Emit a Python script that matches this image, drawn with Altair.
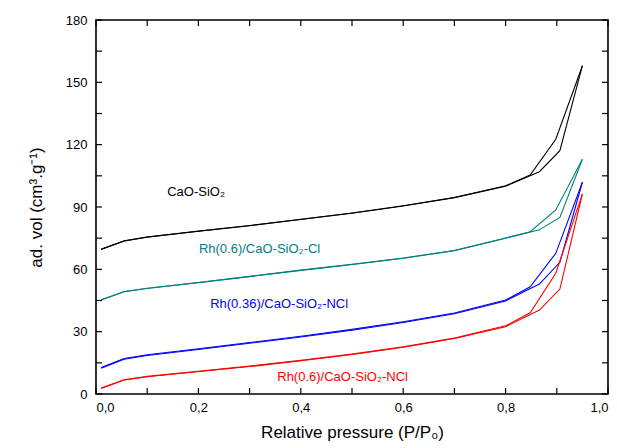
import altair as alt
import pandas as pd

series_names = ["CaO-SiO₂", "Rh(0.6)/CaO-SiO₂-Cl", "Rh(0.36)/CaO-SiO₂-NCl", "Rh(0.6)/CaO-SiO₂-NCl"]
series_colors = ["#000000", "#008080", "#0000ff", "#ff0000"]

# relative pressures of adsorption and desorption branches
p_ads = [0.01, 0.055, 0.1, 0.2, 0.3, 0.4, 0.5, 0.6, 0.7, 0.8, 0.866, 0.906, 0.95]
p_des = [0.95, 0.898, 0.848, 0.8, 0.7, 0.6, 0.5, 0.4, 0.3, 0.2, 0.1, 0.055, 0.01]

ads_cao = [69.6, 73.6, 75.5, 78.3, 81.0, 84.0, 87.0, 90.5, 94.5, 100.0, 107.0, 117.1, 158.0]
des_cao = [158.0, 122.6, 105.4, 100.2, 94.6, 90.6, 87.1, 84.1, 81.1, 78.4, 75.6, 73.7, 69.7]

ads_cl = [45.2, 49.2, 50.8, 53.6, 56.5, 59.5, 62.3, 65.3, 69.0, 75.0, 79.0, 85.0, 113.0]
des_cl = [113.0, 88.6, 78.1, 75.1, 69.1, 65.4, 62.4, 59.6, 56.6, 53.7, 50.9, 49.3, 45.3]

ads_036 = [12.4, 16.7, 18.5, 21.4, 24.4, 27.4, 30.7, 34.4, 38.6, 44.8, 52.9, 63.4, 101.9]
des_036 = [101.9, 67.7, 51.6, 45.2, 39.0, 34.8, 31.1, 27.8, 24.8, 21.8, 18.9, 17.1, 12.7]

ads_06 = [2.7, 6.7, 8.3, 10.8, 13.2, 16.0, 19.0, 22.5, 26.7, 32.4, 40.4, 50.5, 96.3]
des_06 = [96.3, 58.1, 39.1, 32.8, 26.9, 22.7, 19.2, 16.2, 13.4, 10.9, 8.5, 6.9, 2.9]

ads_all = [ads_cao, ads_cl, ads_036, ads_06]
des_all = [des_cao, des_cl, des_036, des_06]

# label annotations
label_x = [0.139, 0.201, 0.223, 0.354]
label_y = [97.2, 69.8, 43.3, 8.2]

x_ticks = [0.0, 0.1, 0.2, 0.3, 0.4, 0.5, 0.6, 0.7, 0.8, 0.9, 1.0]
x_labels = [0.0, 0.2, 0.4, 0.6, 0.8, 1.0]
y_ticks = [0, 15, 30, 45, 60, 75, 90, 105, 120, 135, 150, 165, 180]
y_labels = [0, 30, 60, 90, 120, 150, 180]

rows = []
for name, a, d in zip(series_names, ads_all, des_all):
    for i, (p, v) in enumerate(zip(p_ads, a)):
        rows.append({"series": name, "branch": "ads", "order": i, "p": p, "v": v})
    for i, (p, v) in enumerate(zip(p_des, d)):
        rows.append({"series": name, "branch": "des", "order": i, "p": p, "v": v})
df = pd.DataFrame(rows)

lab_df = pd.DataFrame({"series": series_names, "p": label_x, "v": label_y})

W, H = 512, 374
FONT = "Liberation Sans"

xs = alt.Scale(domain=[0, 1], nice=False, zero=False)
ys = alt.Scale(domain=[0, 180], nice=False)
color = alt.Color("series:N", scale=alt.Scale(domain=series_names, range=series_colors), legend=None)

lines = alt.Chart(df).mark_line(strokeWidth=1.1).encode(
    x=alt.X("p:Q", scale=xs,
            axis=alt.Axis(title="Relative pressure (P/P₀)", values=x_labels,
                          labelExpr="replace(format(datum.value, '.1f'), '.', ',')",
                          ticks=False, domain=False, grid=False, labelPadding=7,
                          titlePadding=10)),
    y=alt.Y("v:Q", scale=ys,
            axis=alt.Axis(title="ad. vol (cm³.g⁻¹)", values=y_labels, format="d",
                          ticks=False, domain=False, grid=False, labelPadding=9,
                          titlePadding=20)),
    color=color,
    detail="branch:N",
    order="order:Q",
)

labels = alt.Chart(lab_df).mark_text(align="left", baseline="middle", fontSize=13, font=FONT).encode(
    x=alt.X("p:Q", scale=xs), y=alt.Y("v:Q", scale=ys), color=color, text="series:N"
)

xt = pd.DataFrame({"t": x_ticks})
yt = pd.DataFrame({"t": y_ticks})
tick_len = 6
bot = alt.Chart(xt).mark_rule(color="black", strokeWidth=1.2).encode(
    x=alt.X("t:Q", scale=xs), y=alt.value(H), y2=alt.value(H - tick_len))
top = alt.Chart(xt).mark_rule(color="black", strokeWidth=1.2).encode(
    x=alt.X("t:Q", scale=xs), y=alt.value(0), y2=alt.value(tick_len))
left = alt.Chart(yt).mark_rule(color="black", strokeWidth=1.2).encode(
    y=alt.Y("t:Q", scale=ys), x=alt.value(0), x2=alt.value(tick_len))
right = alt.Chart(yt).mark_rule(color="black", strokeWidth=1.2).encode(
    y=alt.Y("t:Q", scale=ys), x=alt.value(W), x2=alt.value(W - tick_len))

chart = alt.layer(lines, labels, bot, top, left, right).properties(
    width=W, height=H,
    autosize=alt.AutoSizeParams(type="none"),
    padding={"left": 96, "top": 20, "right": 9, "bottom": 54},
).configure_view(stroke="black", strokeWidth=1.6).configure_axis(
    labelFont=FONT, labelFontSize=13, labelColor="black",
    titleFont=FONT, titleFontSize=17, titleFontWeight="normal", titleColor="black",
)

chart.save("out.html", embed_options={"renderer": "svg", "actions": False})
